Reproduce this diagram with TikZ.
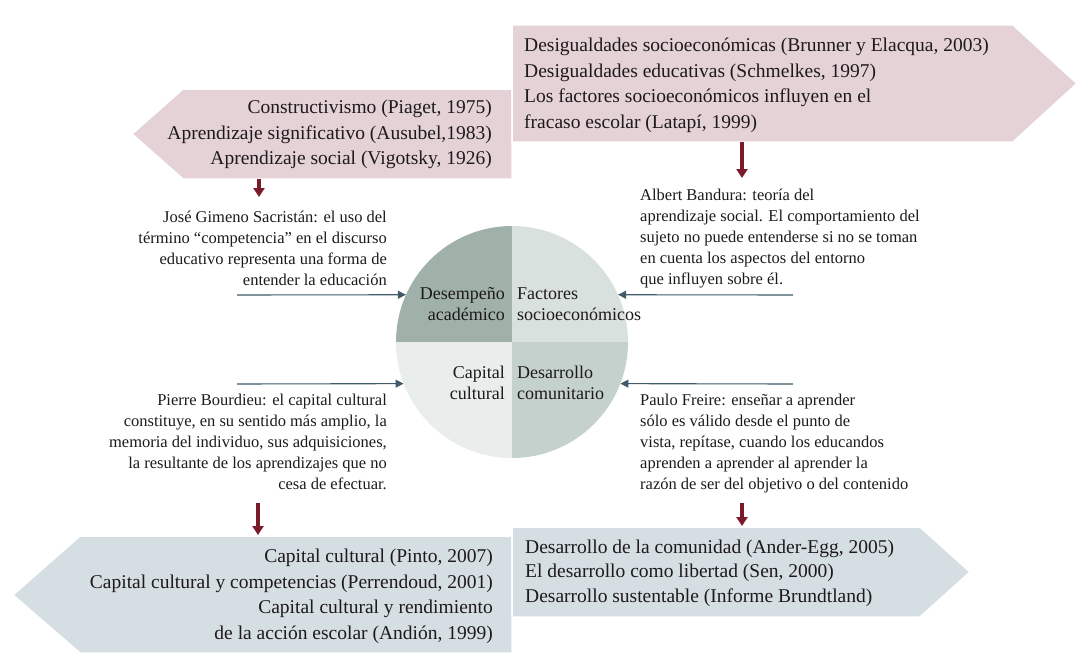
\documentclass[tikz,border=0pt]{standalone}
\usepackage{fontspec}
\setmainfont{Liberation Serif}
\usetikzlibrary{arrows.meta}
\definecolor{pinkbox}{HTML}{E4D2D6}
\definecolor{bluebox}{HTML}{D5DEE2}
\definecolor{darkred}{HTML}{7A1A2B}
\definecolor{slate}{HTML}{3D5B68}
\definecolor{ink}{HTML}{1E1A1B}
\definecolor{qA}{HTML}{9FB1A8}
\definecolor{qB}{HTML}{D9E1DE}
\definecolor{qC}{HTML}{E9EDEB}
\definecolor{qD}{HTML}{C5D1CC}
\newcommand\tblock[2]{\begin{tabular}[t]{@{}#1@{}}#2\end{tabular}}
\begin{document}
\begin{tikzpicture}[x=1pt,y=-1pt,
  bigtext/.style={font=\fontsize{19.5}{25.5}\selectfont, inner sep=0pt, text=ink},
  smalltext/.style={font=\fontsize{16.5}{21}\selectfont, inner sep=0pt, text=ink},
  qtext/.style={font=\fontsize{18}{21}\selectfont, inner sep=0pt, text=ink},
  redarrow/.style={draw=darkred, line width=3.5pt, -{Triangle[width=11pt,length=9pt]}},
  bluearrow/.style={draw=slate, line width=1.1pt, -{Triangle[width=8pt,length=8pt]}},
  pinkshape/.style={fill=pinkbox, draw=white, line width=1.5pt},
  blueshape/.style={fill=bluebox, draw=white, line width=1.5pt}]

\useasboundingbox (0,0) rectangle (1079,661);
\fill[white] (0,0) rectangle (1079,661);

% ---- top boxes
\path[pinkshape] (512,89) -- (183,89) -- (132,134) -- (183,179) -- (512,179) -- cycle;
\path[pinkshape] (512,25) -- (1013,25) -- (1077,83.5) -- (1013,142) -- (512,142) -- cycle;

% ---- bottom boxes
\path[blueshape] (512,536) -- (80,536) -- (13,595) -- (80,653) -- (512,653) -- cycle;
\path[blueshape] (512,527) -- (920,527) -- (970,572) -- (920,617) -- (512,617) -- cycle;

% ---- box texts
\node[bigtext, anchor=base west] (tr) at (524,52) {\tblock{l}{%
Desigualdades socioeconómicas (Brunner y Elacqua, 2003)\\
Desigualdades educativas (Schmelkes, 1997)\\
Los factores socioeconómicos influyen en el\\
fracaso escolar (Latapí, 1999)}};

\node[bigtext, anchor=base east] (tl) at (492,113.5) {\tblock{r}{%
Constructivismo (Piaget, 1975)\\
Aprendizaje significativo (Ausubel,1983)\\
Aprendizaje social (Vigotsky, 1926)}};

\node[bigtext, anchor=base east] (bl) at (493,562.5) {\tblock{r}{%
Capital cultural (Pinto, 2007)\\
Capital cultural y competencias (Perrendoud, 2001)\\
Capital cultural y rendimiento\hspace{5pt}\\
de la acción escolar (Andión, 1999)}};

\node[bigtext, anchor=base west, font=\fontsize{19.5}{24.5}\selectfont] (br) at (525,553) {\tblock{l}{%
Desarrollo de la comunidad (Ander-Egg, 2005)\\
El desarrollo como libertad (Sen, 2000)\\
Desarrollo sustentable (Informe Brundtland)}};

% ---- quote texts
\node[smalltext, anchor=base east] (jose) at (387,222.5) {\tblock{r}{%
José Gimeno Sacristán: el uso del\\
término “competencia” en el discurso\\
educativo representa una forma de\\
entender la educación}};

\node[smalltext, anchor=base west] (bandura) at (640,200) {\tblock{l}{%
Albert Bandura: teoría del\\
aprendizaje social. El comportamiento del\\
sujeto no puede entenderse si no se toman\\
en cuenta los aspectos del entorno\\
que influyen sobre él.}};

\node[smalltext, anchor=base east] (bourdieu) at (387,405) {\tblock{r}{%
Pierre Bourdieu: el capital cultural\\
constituye, en su sentido más amplio, la\\
memoria del individuo, sus adquisiciones,\\
la resultante de los aprendizajes que no\\
cesa de efectuar.}};

\node[smalltext, anchor=base west] (freire) at (640,405) {\tblock{l}{%
Paulo Freire: enseñar a aprender\\
sólo es válido desde el punto de\\
vista, repítase, cuando los educandos\\
aprenden a aprender al aprender la\\
razón de ser del objetivo o del contenido}};

% ---- circle
\node[circle, minimum size=232pt, inner sep=0pt] (circ) at (512,342) {};
\begin{scope}
  \clip (512,342) circle[radius=116pt];
  \fill[qA] (380,220) rectangle (512,342);
  \fill[qB] (512,220) rectangle (640,342);
  \fill[qC] (380,342) rectangle (512,470);
  \fill[qD] (512,342) rectangle (640,470);
\end{scope}

\node[qtext, anchor=base east] (q1) at (505,299) {\tblock{r}{Desempeño\\académico}};
\node[qtext, anchor=base west] (q2) at (517,299) {\tblock{l}{Factores\\socioeconómicos}};
\node[qtext, anchor=base east] (q3) at (505,378) {\tblock{r}{Capital\\cultural}};
\node[qtext, anchor=base west] (q4) at (517,378) {\tblock{l}{Desarrollo\\comunitario}};

% ---- blue arrows into the circle
\coordinate (a1) at (237,295);
\coordinate (a2) at (793,295);
\coordinate (a3) at (237,384);
\coordinate (a4) at (793,384);
\draw[bluearrow] (a1) -- (circ.156);
\draw[bluearrow] (a2) -- (circ.24);
\draw[bluearrow] (a3) -- (circ.201);
\draw[bluearrow] (a4) -- (circ.339);

% ---- red arrows
\coordinate (r1s) at (259,179);  \coordinate (r1e) at (259,197);
\coordinate (r2s) at (742,142);  \coordinate (r2e) at (742,178);
\coordinate (r3s) at (258,503);  \coordinate (r3e) at (258,535);
\coordinate (r4s) at (742,503);  \coordinate (r4e) at (742,526);
\draw[redarrow] (r1s) -- (r1e);
\draw[redarrow] (r2s) -- (r2e);
\draw[redarrow] (r3s) -- (r3e);
\draw[redarrow] (r4s) -- (r4e);
\end{tikzpicture}
\end{document}
